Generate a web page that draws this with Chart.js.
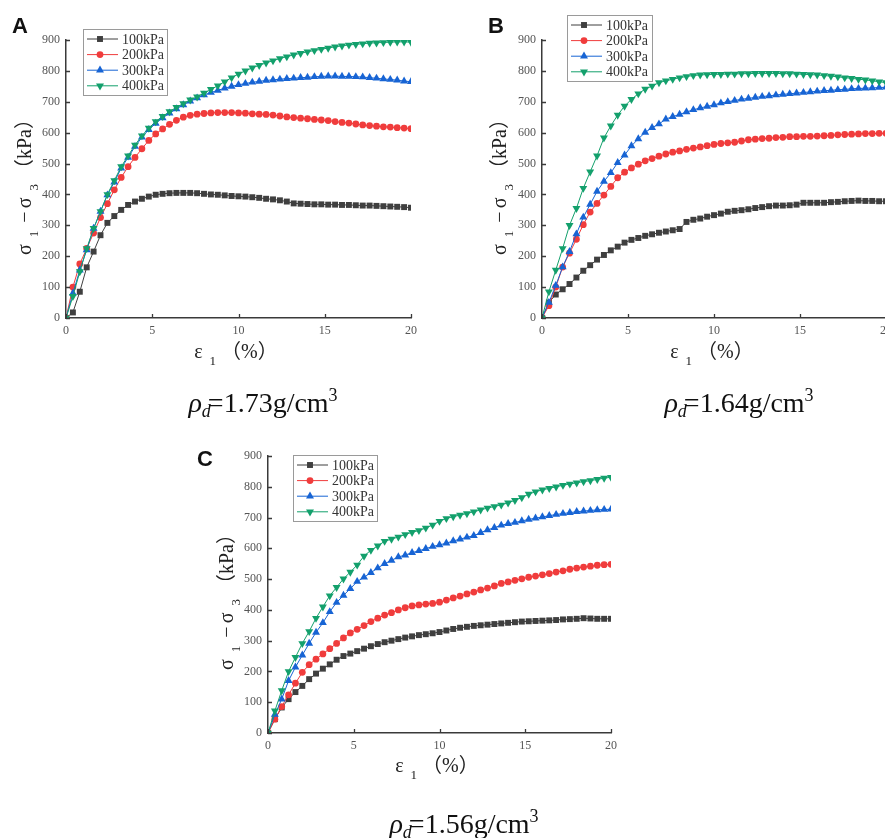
<!DOCTYPE html>
<html>
<head>
<meta charset="utf-8">
<title>Deviator stress – axial strain</title>
<script src="https://cdn.jsdelivr.net/npm/chart.js@4.4.1/dist/chart.umd.min.js"></script>
<style>
  html, body { margin: 0; padding: 0; background: #fff; overflow: hidden; }
  body { width: 885px; height: 838px; position: relative; }
  .panel { position: absolute; }
  .tag { position: absolute; font: bold 22px "Liberation Sans", Arial, sans-serif; line-height: 22px; color: #111; }
  .xtitle, .ytitle {
    position: absolute; white-space: nowrap; color: #222;
    font-family: "Liberation Serif", "Noto Sans CJK SC", serif; font-size: 20px; line-height: 20px;
  }
  .xtitle { transform: translateX(-50%); }
  .ytitle { transform: translate(-50%, -50%) rotate(-90deg); }
  .sub { font-size: 13px; position: relative; top: 7px; margin: 0 5px 0 7px; }
  .gap { margin: 0 3px; }
  .caption {
    position: absolute; white-space: nowrap; color: #111; transform: translateX(-50%);
    font-family: "Liberation Serif", serif; font-size: 28px; line-height: 28px;
  }
  .csub { font-size: 18px; position: relative; top: 5px; margin-right: -3px; }
  .csup { font-size: 18px; position: relative; top: -11px; }
</style>
</head>
<body>

<div class="panel" id="wrapA" style="left:0px;top:0px;width:430px;height:345px"><canvas id="chartA"></canvas></div>
<div class="panel" id="wrapB" style="left:470px;top:0px;width:430px;height:345px"><canvas id="chartB"></canvas></div>
<div class="panel" id="wrapC" style="left:200px;top:420px;width:430px;height:340px"><canvas id="chartC"></canvas></div>

<div class="tag" style="left:12px;top:15px">A</div>
<div class="tag" style="left:488px;top:15px">B</div>
<div class="tag" style="left:197px;top:448px">C</div>

<div class="ytitle" style="left:25px;top:182px">σ<span class="sub">1</span><span class="gap">−</span>σ<span class="sub">3</span>（kPa）</div>
<div class="ytitle" style="left:500px;top:182px">σ<span class="sub">1</span><span class="gap">−</span>σ<span class="sub">3</span>（kPa）</div>
<div class="ytitle" style="left:227px;top:597px">σ<span class="sub">1</span><span class="gap">−</span>σ<span class="sub">3</span>（kPa）</div>

<div class="xtitle" style="left:236px;top:341px">ε<span class="sub">1</span>（%）</div>
<div class="xtitle" style="left:712px;top:341px">ε<span class="sub">1</span>（%）</div>
<div class="xtitle" style="left:437px;top:755px">ε<span class="sub">1</span>（%）</div>

<div class="caption" style="left:263px;top:389px"><i>ρ</i><i class="csub">d</i>=1.73g/cm<span class="csup">3</span></div>
<div class="caption" style="left:739px;top:389px"><i>ρ</i><i class="csub">d</i>=1.64g/cm<span class="csup">3</span></div>
<div class="caption" style="left:464px;top:810px"><i>ρ</i><i class="csub">d</i>=1.56g/cm<span class="csup">3</span></div>

<script>
// axial strain (%) at which each reading was taken
const strain = [0, 0.4, 0.8, 1.2, 1.6, 2, 2.4, 2.8, 3.2, 3.6, 4, 4.4, 4.8, 5.2, 5.6, 6, 6.4, 6.8, 7.2, 7.6,
  8, 8.4, 8.8, 9.2, 9.6, 10, 10.4, 10.8, 11.2, 11.6, 12, 12.4, 12.8, 13.2, 13.6, 14, 14.4, 14.8, 15.2, 15.6,
  16, 16.4, 16.8, 17.2, 17.6, 18, 18.4, 18.8, 19.2, 19.6, 20];

const pressures = ['100kPa', '200kPa', '300kPa', '400kPa'];
const strainTicks = [0, 5, 10, 15, 20];
const stressTicks = [0, 100, 200, 300, 400, 500, 600, 700, 800, 900];

// deviator stress (kPa), dry density 1.73 g/cm3
const a100 = [0, 18, 85, 164, 215, 268, 308, 330, 350, 366, 377, 386, 393, 399, 402, 404, 405, 405, 405, 404,
  402, 400, 399, 397, 395, 394, 393, 391, 389, 386, 384, 381, 377, 371, 370, 369, 368, 368, 367, 367,
  366, 366, 365, 364, 364, 363, 362, 361, 360, 359, 357];
const a200 = [0, 100, 175, 225, 275, 325, 370, 415, 455, 490, 520, 548, 575, 596, 612, 627, 640, 650, 656, 660,
  662, 664, 665, 665, 665, 664, 663, 661, 660, 659, 657, 654, 651, 649, 647, 645, 643, 641, 639, 636,
  633, 631, 628, 625, 623, 621, 619, 618, 616, 615, 613];
const a300 = [0, 80, 155, 220, 290, 345, 398, 440, 485, 520, 555, 585, 610, 630, 648, 663, 677, 690, 702, 712,
  722, 730, 737, 744, 750, 755, 759, 763, 766, 769, 771, 773, 775, 776, 778, 779, 781, 782, 783, 783,
  782, 782, 781, 780, 778, 776, 774, 772, 770, 767, 765];
const a400 = [0, 70, 150, 225, 290, 345, 400, 445, 490, 525, 560, 590, 615, 636, 653, 668, 682, 694, 706, 716,
  728, 740, 752, 765, 778, 790, 800, 810, 818, 826, 833, 840, 846, 852, 857, 862, 866, 870, 874, 878,
  881, 884, 886, 888, 890, 891, 892, 893, 894, 894, 893];

// dry density 1.64 g/cm3
const b100 = [0, 50, 76, 93, 110, 131, 153, 171, 189, 204, 219, 231, 244, 253, 259, 266, 271, 276, 280, 284,
  288, 311, 318, 322, 328, 333, 338, 344, 347, 349, 352, 356, 359, 362, 364, 364, 365, 367, 373, 373,
  373, 373, 375, 376, 378, 379, 380, 379, 379, 378, 378];
const b200 = [0, 40, 100, 165, 210, 255, 302, 343, 371, 398, 426, 454, 472, 486, 498, 509, 516, 524, 531, 537,
  541, 546, 550, 554, 558, 562, 565, 567, 569, 573, 577, 579, 581, 582, 584, 585, 587, 587, 588, 588,
  589, 590, 591, 593, 594, 595, 596, 597, 597, 598, 598];
const b300 = [0, 50, 105, 165, 215, 272, 326, 368, 410, 442, 470, 503, 527, 557, 580, 601, 616, 628, 644, 652,
  659, 667, 674, 680, 685, 690, 696, 700, 704, 708, 711, 714, 717, 719, 722, 724, 726, 728, 730, 732,
  734, 736, 737, 739, 740, 742, 743, 744, 745, 746, 747];
const b400 = [0, 85, 155, 225, 300, 355, 420, 473, 525, 583, 622, 657, 686, 708, 726, 741, 751, 762, 768, 773,
  778, 782, 785, 787, 788, 789, 789, 790, 790, 791, 791, 792, 792, 792, 792, 791, 791, 790, 789, 788,
  787, 785, 783, 781, 778, 776, 773, 771, 768, 765, 762];

// dry density 1.56 g/cm3
const c100 = [0, 45, 83, 110, 133, 153, 175, 193, 209, 223, 238, 250, 258, 266, 274, 282, 289, 295, 300, 305,
  310, 314, 318, 321, 324, 328, 333, 338, 342, 345, 348, 350, 352, 354, 356, 358, 360, 362, 363, 364,
  365, 366, 367, 369, 370, 371, 373, 372, 371, 371, 371];
const c200 = [0, 45, 86, 124, 162, 197, 222, 240, 257, 274, 291, 309, 325, 337, 349, 362, 373, 383, 391, 400,
  407, 413, 416, 419, 421, 425, 432, 439, 445, 452, 458, 465, 471, 478, 486, 491, 496, 501, 506, 510,
  514, 518, 523, 527, 532, 536, 539, 542, 545, 547, 548];
const c300 = [0, 60, 110, 170, 214, 253, 291, 327, 358, 394, 424, 447, 469, 492, 506, 521, 536, 550, 561, 572,
  578, 586, 592, 599, 606, 611, 617, 624, 630, 636, 641, 651, 660, 667, 675, 680, 684, 689, 694, 698,
  702, 706, 710, 713, 716, 719, 721, 723, 725, 726, 727];
const c400 = [0, 72, 138, 200, 246, 291, 330, 373, 410, 446, 473, 501, 523, 546, 575, 594, 608, 623, 630, 637,
  645, 652, 658, 666, 676, 688, 697, 703, 708, 713, 719, 725, 731, 736, 741, 748, 756, 765, 776, 784,
  790, 795, 800, 805, 809, 813, 817, 820, 824, 828, 831];

const axisColor = '#3a3a3a';
const tickColor = '#555';

const seriesStyles = [
  { color: '#3f3f3f', pointStyle: 'rect', radius: 4.2, rotation: 0 },
  { color: '#f03c3c', pointStyle: 'circle', radius: 3.4, rotation: 0 },
  { color: '#1764d4', pointStyle: 'triangle', radius: 4.6, rotation: 0 },
  { color: '#13a06c', pointStyle: 'triangle', radius: 4.6, rotation: 180 },
];

// short tick marks pointing into the plot area
const inwardTicks = {
  id: 'inwardTicks',
  afterDraw(chart) {
    const { ctx, chartArea, scales } = chart;
    ctx.save();
    ctx.strokeStyle = axisColor;
    ctx.lineWidth = 1.3;
    ctx.beginPath();
    scales.x.ticks.forEach((t) => {
      const px = Math.round(scales.x.getPixelForValue(t.value)) + 0.5;
      ctx.moveTo(px, chartArea.bottom);
      ctx.lineTo(px, chartArea.bottom - 4);
    });
    scales.y.ticks.forEach((t) => {
      const py = Math.round(scales.y.getPixelForValue(t.value)) + 0.5;
      ctx.moveTo(chartArea.left, py);
      ctx.lineTo(chartArea.left + 4, py);
    });
    ctx.stroke();
    ctx.restore();
  },
};

// framed legend sitting at a fixed spot in the canvas
const boxLegend = {
  id: 'boxLegend',
  afterDraw(chart, args, opts) {
    const { ctx } = chart;
    const { x, y, w, h } = opts;
    ctx.save();
    ctx.fillStyle = '#fff';
    ctx.fillRect(x, y, w, h);
    ctx.strokeStyle = '#9a9a9a';
    ctx.lineWidth = 1;
    ctx.strokeRect(x + 0.5, y + 0.5, w, h);
    ctx.font = '14px "Liberation Serif", serif';
    ctx.textBaseline = 'middle';
    chart.data.datasets.forEach((ds, i) => {
      const rowY = y + 10 + i * 15.6;
      ctx.strokeStyle = ds.borderColor;
      ctx.lineWidth = 1;
      ctx.beginPath();
      ctx.moveTo(x + 4, rowY);
      ctx.lineTo(x + 35, rowY);
      ctx.stroke();
      ctx.fillStyle = ds.pointBackgroundColor;
      Chart.helpers.drawPoint(ctx, {
        pointStyle: ds.pointStyle,
        rotation: ds.pointRotation,
        radius: ds.pointRadius,
        borderWidth: 0,
      }, x + 17, rowY);
      ctx.fillStyle = '#333';
      ctx.fillText(ds.label, x + 39, rowY + 1);
    });
    ctx.restore();
  },
};

function buildDatasets(seriesList) {
  return seriesList.map((values, i) => {
    const st = seriesStyles[i];
    return {
      label: pressures[i],
      data: strain.map((e, k) => ({ x: e, y: values[k] })),
      borderColor: st.color,
      borderWidth: 1,
      pointStyle: st.pointStyle,
      pointRotation: st.rotation,
      pointRadius: st.radius,
      pointBackgroundColor: st.color,
      pointBorderWidth: 0,
      order: 3 - i,
      tension: 0,
    };
  });
}

function makePanel(canvasId, seriesList, geom) {
  return new Chart(document.getElementById(canvasId), {
    type: 'line',
    data: { datasets: buildDatasets(seriesList) },
    options: {
      responsive: true,
      maintainAspectRatio: false,
      animation: false,
      layout: { padding: { left: 0, top: geom.top, right: geom.right, bottom: 0 } },
      plugins: {
        legend: { display: false },
        tooltip: { enabled: false },
        boxLegend: geom.legend,
      },
      scales: {
        x: {
          type: 'linear',
          min: 0,
          max: 20,
          afterBuildTicks: (s) => { s.ticks = strainTicks.map((v) => ({ value: v })); },
          afterFit: (s) => { s.height = 27; },
          ticks: { color: tickColor, padding: 6, font: { family: '"Liberation Serif", serif', size: 12 } },
          grid: { display: false, drawTicks: false },
          border: { display: true, color: axisColor, width: 1.5 },
        },
        y: {
          type: 'linear',
          min: 0,
          max: 900,
          afterBuildTicks: (s) => { s.ticks = stressTicks.map((v) => ({ value: v })); },
          afterFit: (s) => { s.width = geom.yWidth; },
          ticks: { color: tickColor, padding: 6, font: { family: '"Liberation Serif", serif', size: 12 } },
          grid: { display: false, drawTicks: false },
          border: { display: true, color: axisColor, width: 1.5 },
        },
      },
    },
    plugins: [inwardTicks, boxLegend],
  });
}

makePanel('chartA', [a100, a200, a300, a400], {
  top: 40, right: 19, yWidth: 66, legend: { x: 83, y: 29, w: 84, h: 66 },
});
makePanel('chartB', [b100, b200, b300, b400], {
  top: 40, right: 14, yWidth: 72, legend: { x: 97, y: 15, w: 85, h: 66 },
});
makePanel('chartC', [c100, c200, c300, c400], {
  top: 36, right: 19, yWidth: 68, legend: { x: 93, y: 35, w: 84, h: 66 },
});
</script>
</body>
</html>
